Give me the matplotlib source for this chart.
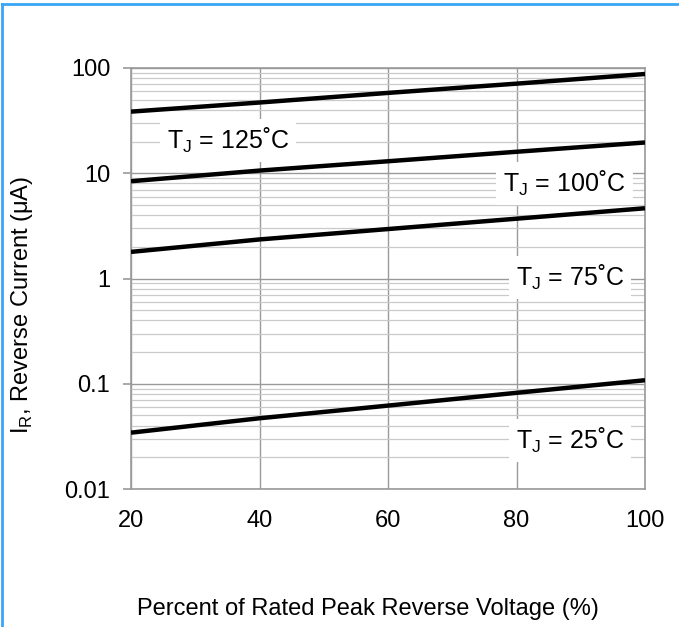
import matplotlib
matplotlib.use("Agg")
import matplotlib.pyplot as plt
from matplotlib.lines import Line2D
from matplotlib.ticker import LogLocator, FixedLocator, FixedFormatter, NullFormatter

plt.rcParams['font.family'] = ['Liberation Sans', 'DejaVu Sans']

# percent of rated peak reverse voltage
voltage = [20, 40, 60, 80, 100]

# reverse current (uA) per junction temperature
ir_125 = [38.5, 47.0, 58.0, 71.0, 87.7]
ir_100 = [8.4, 10.6, 13.0, 16.0, 19.6]
ir_75 = [1.79, 2.35, 2.95, 3.7, 4.65]
ir_25 = [0.0343, 0.047, 0.062, 0.082, 0.108]

curve_labels = ['T$_\\mathregular{J}$ = 125˚C', 'T$_\\mathregular{J}$ = 100˚C',
                'T$_\\mathregular{J}$ = 75˚C', 'T$_\\mathregular{J}$ = 25˚C']

y_ticks = [0.01, 0.1, 1, 10, 100]
y_ticklabels = ['0.01', '0.1', '1', '10', '100']
x_ticks = [20, 40, 60, 80, 100]

fig = plt.figure(figsize=(6.79, 6.27), dpi=100)
ax = fig.add_axes([131/679, 1-489/627, (645-131)/679, (489-68)/627])

ax.set_yscale('log')
ax.set_xlim(20, 100)
ax.set_ylim(0.01, 100)

# grid
ax.yaxis.set_major_locator(FixedLocator(y_ticks))
ax.yaxis.set_major_formatter(FixedFormatter(y_ticklabels))
ax.yaxis.set_minor_locator(LogLocator(base=10, subs=range(2, 10), numticks=20))
ax.yaxis.set_minor_formatter(NullFormatter())
ax.set_xticks(x_ticks)
ax.grid(which='major', axis='y', color='#9a9a9a', lw=1.0, zorder=0)
ax.grid(which='minor', axis='y', color='#cacaca', lw=0.9, zorder=0)
ax.grid(which='major', axis='x', color='#9a9a9a', lw=1.0, zorder=0)

for s in ax.spines.values():
    s.set_color('#9a9a9a')
    s.set_linewidth(1.2)

ax.tick_params(axis='y', which='major', length=6, color='#9a9a9a', width=1.2,
               pad=9, labelsize=17)
ax.tick_params(axis='y', which='minor', length=0)
ax.tick_params(axis='x', length=0, pad=15, labelsize=17)

for ys in [ir_125, ir_100, ir_75, ir_25]:
    ax.plot(voltage, ys, color='black', lw=3.2, solid_capstyle='butt', zorder=3)

# curve labels with white boxes hiding the grid
label_pos = [(35.1, 20.5), (87.5, 8.0), (88.3, 1.03), (88.3, 0.029)]
for (lx, ly), txt in zip(label_pos, curve_labels):
    ax.text(lx, ly, txt, fontsize=18, ha='center', va='center', zorder=4,
            bbox=dict(facecolor='white', edgecolor='none', pad=5))

fig.text(22/679, 1-305/627, 'I$_\\mathregular{R}$, Reverse Current (μA)',
         rotation=90, fontsize=17, ha='center', va='center')
fig.text(368/679, 1-609/627, 'Percent of Rated Peak Reverse Voltage (%)',
         fontsize=17, ha='center', va='center')

# blue frame on top and left
fig.add_artist(Line2D([2/679, 1], [1-4/627, 1-4/627], color='#3aa6f5', lw=2))
fig.add_artist(Line2D([2/679, 2/679], [0, 1-4/627], color='#3aa6f5', lw=2))

fig.savefig('out.png', dpi=100, facecolor='white')
